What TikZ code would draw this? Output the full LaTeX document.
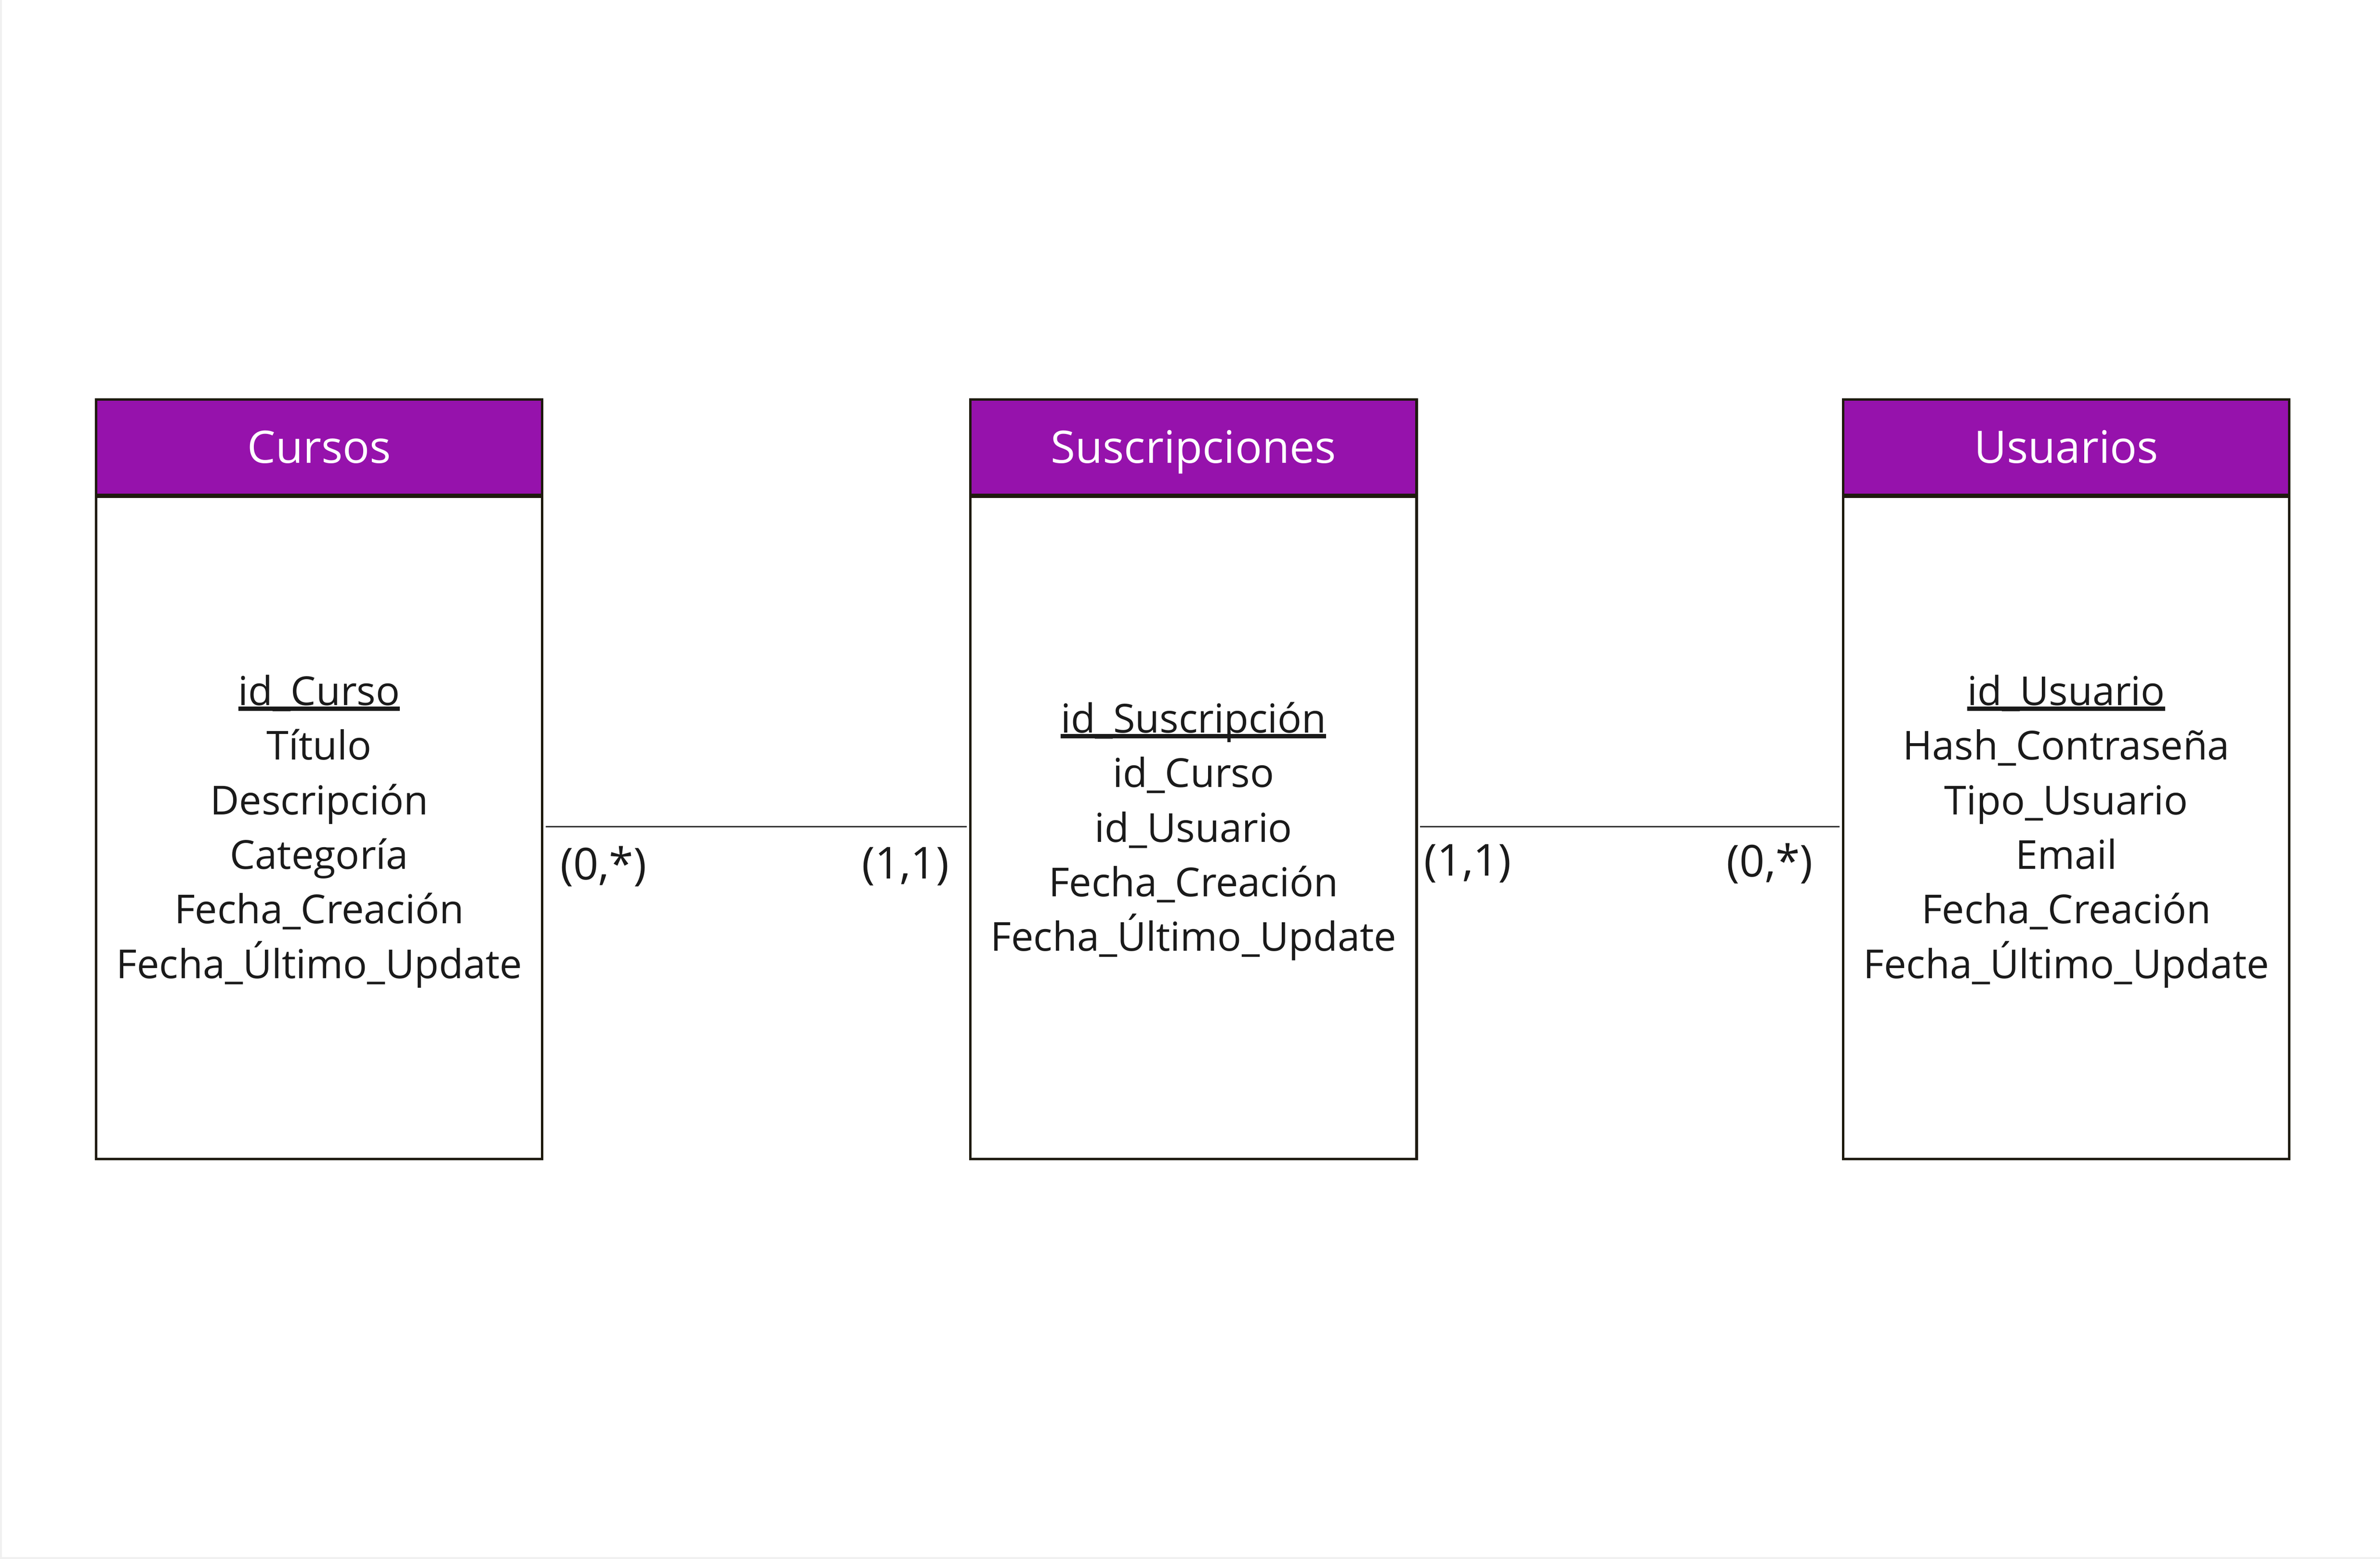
\documentclass[tikz,border=0pt]{standalone}
\usepackage{fontspec}
\setmainfont{Open Sans}
\definecolor{hdr}{RGB}{150,18,172}
\definecolor{edge}{RGB}{30,26,14}
\definecolor{txt}{RGB}{26,26,26}
\definecolor{conn}{RGB}{50,50,50}
\definecolor{frame}{RGB}{240,240,240}
\newcommand\keyattr[1]{\setbox0\hbox{#1}\rlap{\rule[-0.14em]{\wd0}{0.105em}}\box0}
\tikzset{
  header/.style={draw=edge, line width=1.6pt, fill=hdr, text=white,
    minimum width=294pt, minimum height=63pt, inner sep=0pt, anchor=north west,
    font=\fontsize{29.5}{36}\selectfont, text height=21pt, text depth=0pt},
  entbody/.style={draw=edge, line width=1.6pt, fill=white,
    minimum width=294pt, minimum height=438pt, inner sep=0pt, anchor=north west},
  sep/.style={draw=edge, line width=2.6pt},
  attr/.style={align=center, font=\fontsize{26.3}{36}\selectfont, text=txt, inner sep=0pt},
  card/.style={font=\fontsize{29}{36}\selectfont, text=txt, inner sep=0pt},
  link/.style={draw=conn, line width=1.1pt}
}
\begin{document}
\begin{tikzpicture}[x=1pt,y=1pt]
\fill[white] (0,0) rectangle (1568,-1027.2);
\useasboundingbox (0,0) rectangle (1568,-1027.2);
\fill[frame] (0,0) rectangle (1.3,-1027.2);
\fill[frame] (0,-1025.9) rectangle (1568,-1027.2);

% Cursos
\node[entbody] (cB) at (62.5,-325) {};
\node[header] (cH) at (62.5,-262.3) {Cursos};
\draw[sep] (cH.south west) -- (cH.south east);
\node[attr] (cA) at (cB.center) [yshift=-3pt] {\keyattr{id\_Curso}\\Título\\Descripción\\Categoría\\Fecha\_Creación\\Fecha\_Último\_Update};

% Suscripciones
\node[entbody] (sB) at (638.5,-325) {};
\node[header] (sH) at (638.5,-262.3) {Suscripciones};
\draw[sep] (sH.south west) -- (sH.south east);
\node[attr] (sA) at (sB.center) [yshift=-3pt] {\keyattr{id\_Suscripción}\\id\_Curso\\id\_Usuario\\Fecha\_Creación\\Fecha\_Último\_Update};

% Usuarios
\node[entbody] (uB) at (1213.5,-325) {};
\node[header] (uH) at (1213.5,-262.3) {Usuarios};
\draw[sep] (uH.south west) -- (uH.south east);
\node[attr] (uA) at (uB.center) [yshift=-3pt] {\keyattr{id\_Usuario}\\Hash\_Contraseña\\Tipo\_Usuario\\Email\\Fecha\_Creación\\Fecha\_Último\_Update};

% connectors
\draw[link] ([xshift=1.5pt]cB.east) -- ([xshift=-1.5pt]sB.west);
\draw[link] ([xshift=1.5pt]sB.east) -- ([xshift=-1.5pt]uB.west);

% cardinalities
\node[card] (c1) at (397.5,-571) {(0,*)};
\node[card] (c2) at (596.5,-571) {(1,1)};
\node[card] (c3) at (967,-569) {(1,1)};
\node[card] (c4) at (1166,-569) {(0,*)};
\end{tikzpicture}
\end{document}
